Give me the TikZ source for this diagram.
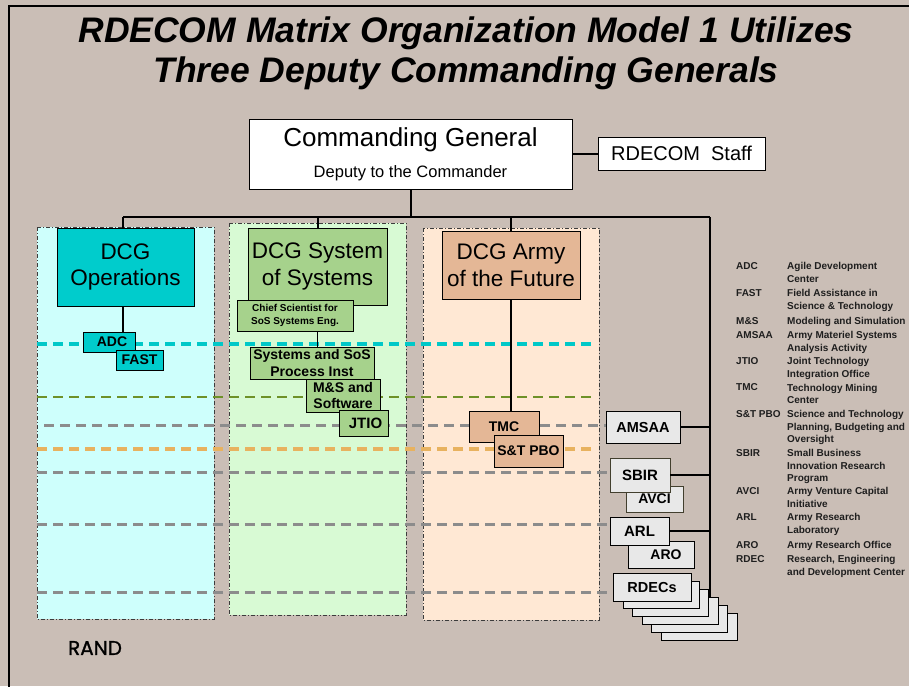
\documentclass[tikz,border=0pt]{standalone}
\usepackage{fontspec}
\setmainfont{Liberation Sans}
\newfontfamily\randfont[FakeBold=1.2]{Poppins}
\usetikzlibrary{calc}
\definecolor{bgc}{RGB}{202,190,182}
\definecolor{cyanpanel}{RGB}{206,255,252}
\definecolor{opsc}{RGB}{0,204,204}
\definecolor{greenpanel}{RGB}{216,250,212}
\definecolor{greenbox}{RGB}{166,210,140}
\definecolor{peachpanel}{RGB}{255,232,212}
\definecolor{tanbox}{RGB}{228,183,150}
\definecolor{graybox}{RGB}{232,232,232}
\definecolor{dcyan}{RGB}{0,200,200}
\definecolor{dolive}{RGB}{110,145,40}
\definecolor{dgray}{RGB}{140,140,140}
\definecolor{dorange}{RGB}{232,178,95}
\definecolor{panelborder}{RGB}{60,60,60}
\definecolor{legtext}{RGB}{30,30,30}
\begin{document}
\begin{tikzpicture}[x=1pt,y=-1pt,
  box/.style={draw=black, line width=0.9pt, inner sep=0pt, align=center},
  smallbox/.style={box, font=\fontsize{14}{16.7}\selectfont\bfseries},
  dcgbox/.style={box, font=\fontsize{22.5}{26.5}\selectfont},
  panel/.style={draw=panelborder, line width=1pt, dash pattern=on 4pt off 2pt on 1pt off 2pt},
  hdash/.style={dash pattern=on 10pt off 6pt},
  conn/.style={line width=2pt},
  legab/.style={font=\fontsize{10}{12.5}\selectfont\bfseries, text=legtext, inner sep=0pt, anchor=west},
  legdef/.style={font=\fontsize{10}{12.5}\selectfont\bfseries, text=legtext, inner sep=0pt, align=left, anchor=north west}
]
\useasboundingbox (0,0) rectangle (909,686);
\clip (0,0) rectangle (909,686);
\fill[bgc] (0,0) rectangle (909,686);
\draw[line width=1.8pt] (9,6) rectangle (930,720);

% title
\node[font=\fontsize{35.5}{40}\selectfont\bfseries\itshape, align=center, inner sep=0pt] (title) at (466,53)
  {RDECOM Matrix Organization Model 1 Utilizes\\Three Deputy Commanding Generals};

% panels
\draw[panel, fill=cyanpanel] (37,227) rectangle (214,619);
\draw[panel, fill=greenpanel] (229,223) rectangle (406,615);
\draw[panel, fill=peachpanel] (423,228) rectangle (599,620);

% top nodes
\node[box, line width=1pt, fill=white, minimum width=323pt, minimum height=70pt, font=\fontsize{16.5}{31}\selectfont] (CG) at (410.5,154)
  {{\fontsize{26}{31}\selectfont Commanding General}\\Deputy to the Commander};
\node[box, fill=white, minimum width=167pt, minimum height=33pt, font=\fontsize{20}{24}\selectfont] (Staff) at (681.5,153.5) {RDECOM\ \ Staff};

% bus
\coordinate (busL) at (123,217);
\coordinate (busR) at (710,217);
\coordinate (rEnd) at (710,600);

% dashed lines
\coordinate (cyL) at (37,344);  \coordinate (cyR) at (595,344);
\coordinate (olL) at (37,397);  \coordinate (olR) at (597,397);
\coordinate (g1L) at (44,425);
\coordinate (orL) at (37,449);  \coordinate (orR) at (593,449);
\coordinate (g2L) at (37,472);
\coordinate (g3L) at (37,524);
\coordinate (g4L) at (37,592);

% right column node (needed for dashed line end)
\node[smallbox, fill=graybox, minimum width=74pt, minimum height=32pt, font=\fontsize{14.5}{17}\selectfont\bfseries] (AMSAA) at (643,427) {AMSAA};

\draw[dcyan, line width=3.2pt, hdash] (cyL) -- (cyR);
\draw[dolive, line width=2.2pt, hdash] (olL) -- (olR);
\draw[dgray, line width=3pt, hdash] (g1L) -- (AMSAA.west |- g1L);
\draw[dorange, line width=3.2pt, hdash] (orL) -- (orR);
\draw[dgray, line width=3pt, hdash] (g2L) -- (610,472);
\draw[dgray, line width=3pt, hdash] (g3L) -- (610,524);
\draw[dgray, line width=3pt, hdash] (g4L) -- (613,592);

% DCG boxes
\node[dcgbox, fill=opsc, minimum width=137pt, minimum height=78pt] (Ops) at (125.5,267) {DCG\\Operations};
\node[dcgbox, fill=greenbox, minimum width=139pt, minimum height=77pt] (SoS) at (317.5,266.5) {DCG System\\of Systems};
\node[dcgbox, fill=tanbox, minimum width=138pt, minimum height=68pt] (Army) at (511,265) {DCG Army\\of the Future};

% connectors of top tree
\draw[conn] (CG.south) -- (CG.south |- busL);
\draw[conn] (busL) -- (busR);
\draw[conn] (busL) -- (busL |- Ops.north);
\draw[conn] (SoS.north |- busL) -- (SoS.north);
\draw[conn] (Army.north |- busL) -- (Army.north);
\draw[conn] (busR) -- (rEnd);
\draw[conn] (Staff.west) -- (Staff.west -| CG.east);

% ops column
\node[smallbox, fill=opsc, minimum width=52pt, minimum height=20pt] (ADC) at (109,342) {\hspace*{6pt}ADC};
\node[smallbox, fill=opsc, minimum width=47pt, minimum height=20pt] (FAST) at (139.5,360) {FAST};
\draw[conn] (busL |- Ops.south) -- (busL |- ADC.north);

% SoS column
\node[box, fill=greenbox, minimum width=116pt, minimum height=31pt, font=\fontsize{10}{12.3}\selectfont\bfseries] (Chief) at (295,315.5) {Chief Scientist for\\SoS Systems Eng.};
\node[smallbox, fill=greenbox, minimum width=124pt, minimum height=32pt] (Sys) at (312,363) {Systems and SoS\\Process Inst};
\node[smallbox, fill=greenbox, minimum width=74pt, minimum height=33pt] (MS) at (343,395.5) {M\&S and\\Software};
\node[smallbox, fill=greenbox, minimum width=49pt, minimum height=26pt, font=\fontsize{15}{17}\selectfont\bfseries] (JTIO) at (363.5,423) {\hspace*{4pt}JTIO};
\draw[line width=1.5pt] (SoS.center |- Chief.south) -- (SoS.center |- Sys.north);

% Army column
\draw[conn] (Army.south) -- (Army.south |- 0,411);
\node[smallbox, fill=tanbox, minimum width=70pt, minimum height=31pt] (TMC) at (504,426.5) {TMC};
\node[smallbox, fill=tanbox, minimum width=69pt, minimum height=32pt] (STPBO) at (528.5,451) {S\&T PBO};

% right column
\node[smallbox, fill=graybox, draw=black!70!olive, minimum width=57pt, minimum height=26pt] (AVCI) at (654.5,499) {AVCI};
\node[smallbox, fill=graybox, draw=black!70!olive, minimum width=60pt, minimum height=34pt, font=\fontsize{15}{17}\selectfont\bfseries] (SBIR) at (640,475) {SBIR};
\node[smallbox, fill=graybox, minimum width=66pt, minimum height=27pt] (ARO) at (661,554.5) {\hspace*{10pt}ARO};
\node[smallbox, fill=graybox, minimum width=59pt, minimum height=28pt, font=\fontsize{15}{17}\selectfont\bfseries] (ARL) at (639.5,531) {ARL};
\foreach \k in {5,4,3,2,1} {
  \node[box, fill=graybox, minimum width=76pt, minimum height=27pt] (rs\k) at ($(652,587.5)+(\k*9.4,\k*7.8)$) {};
}
\node[smallbox, fill=graybox, minimum width=78pt, minimum height=28pt, font=\fontsize{14.5}{17}\selectfont\bfseries] (RDECs) at (652,587.5) {RDECs};
\draw[conn] (AMSAA.east) -- (AMSAA.east -| busR);
\draw[conn] (SBIR.east) -- (SBIR.east -| busR);
\draw[conn] (ARL.east) -- (ARL.east -| busR);

% legend
\node[legab] (aADC) at (736,266) {ADC};
\node[legdef] (dADC) at (787,262.3) {Agile Development\\Center};
\node[legab] (aFAST) at (736,293) {FAST};
\node[legdef] (dFAST) at (787,289.3) {Field Assistance in\\Science \& Technology};
\node[legab] (aMS) at (736,321) {M\&S};
\node[legdef] (dMS) at (787,317.3) {Modeling and Simulation};
\node[legab] (aAMSAA) at (736,335) {AMSAA};
\node[legdef] (dAMSAA) at (787,331.3) {Army Materiel Systems\\Analysis Activity};
\node[legab] (aJTIO) at (736,361) {JTIO};
\node[legdef] (dJTIO) at (787,357.3) {Joint Technology\\Integration Office};
\node[legab] (aTMC) at (736,387.5) {TMC};
\node[legdef] (dTMC) at (787,383.8) {Technology Mining\\Center};
\node[legab] (aSTPBO) at (736,414) {S\&T PBO};
\node[legdef] (dSTPBO) at (787,410.3) {Science and Technology\\Planning, Budgeting and\\Oversight};
\node[legab] (aSBIR) at (736,453) {SBIR};
\node[legdef] (dSBIR) at (787,449.3) {Small Business\\Innovation Research\\Program};
\node[legab] (aAVCI) at (736,491) {AVCI};
\node[legdef] (dAVCI) at (787,487.3) {Army Venture Capital\\Initiative};
\node[legab] (aARL) at (736,517) {ARL};
\node[legdef] (dARL) at (787,513.3) {Army Research\\Laboratory};
\node[legab] (aARO) at (736,545) {ARO};
\node[legdef] (dARO) at (787,541.3) {Army Research Office};
\node[legab] (aRDEC) at (736,559) {RDEC};
\node[legdef] (dRDEC) at (787,555.3) {Research, Engineering\\and Development Center};

% RAND
\node[font=\randfont\fontsize{20}{24}\selectfont, inner sep=0pt] (rand) at (95,648) {RAND};
\end{tikzpicture}
\end{document}
